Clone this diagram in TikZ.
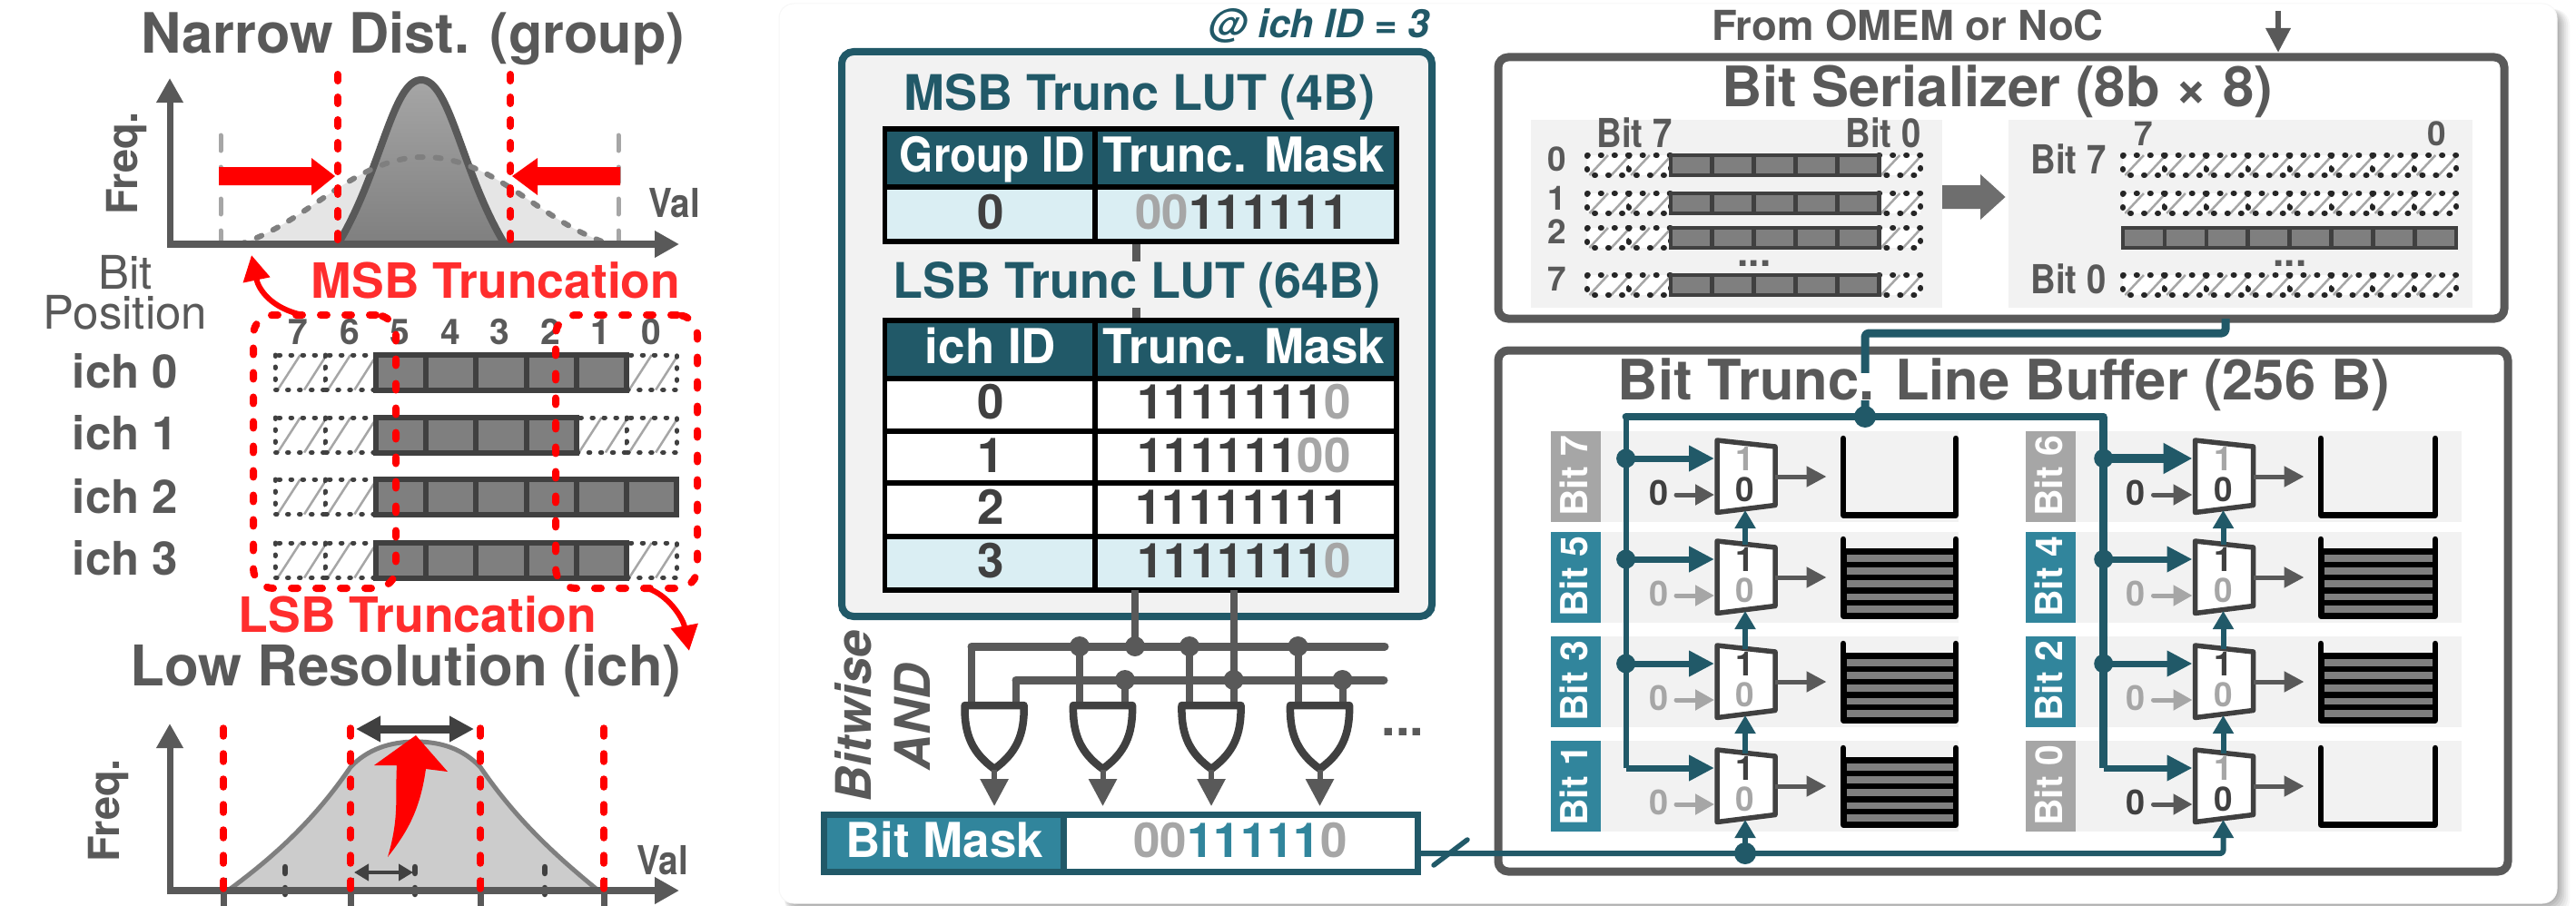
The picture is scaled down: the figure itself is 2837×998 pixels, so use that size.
\documentclass[tikz,border=0pt]{standalone}
\usepackage{fontspec}
\usepackage{graphicx}
\setmainfont{TeX Gyre Heros}
\usetikzlibrary{arrows.meta,calc}
\definecolor{teald}{HTML}{215968}
\definecolor{teall}{HTML}{31859C}
\definecolor{gd}{HTML}{595959}
\definecolor{gk}{HTML}{404040}
\definecolor{gm}{HTML}{7F7F7F}
\definecolor{gl}{HTML}{A6A6A6}
\definecolor{gb}{HTML}{F2F2F2}
\definecolor{tb}{HTML}{DAEEF3}
\definecolor{redt}{HTML}{FF2D2D}
\newcommand{\fs}[1]{\fontsize{#1}{#1}\selectfont}
\newcommand{\sq}[2]{\scalebox{#1}[1]{#2}}
\tikzset{
  bt/.style={inner sep=0pt,outer sep=0pt,anchor=base,font=\fs{#1}\bfseries},
  rt/.style={inner sep=0pt,outer sep=0pt,anchor=base,font=\fs{#1}},
  bi/.style={inner sep=0pt,outer sep=0pt,anchor=base,font=\fs{#1}\bfseries\itshape},
  boxn/.style={inner sep=0pt,outer sep=0pt,shape=rectangle},
  axisl/.style={draw=gd,line width=7pt,-{Triangle[length=27pt,width=28pt]}},
  axisx/.style={draw=gd,line width=8pt,-{Triangle[length=27pt,width=28pt]}},
  reddash/.style={draw=red,line width=8pt,line cap=round,dash pattern=on 7pt off 18pt},
  reddashb/.style={draw=red,line width=7.5pt,line cap=round,dash pattern=on 9pt off 19pt},
  redboxs/.style={boxn,draw=red,line width=8pt,line cap=round,dash pattern=on 7pt off 20pt,rounded corners=22pt},
  redcurve/.style={draw=red,line width=6pt,-{Triangle[length=28pt,width=29pt]}},
  hatchln/.style={draw=gl,line width=2.5pt},
  dashbig/.style={draw=gk,line width=5pt,line cap=round,dash pattern=on 1.5pt off 11.5pt},
  dashsm/.style={draw=black!85,line width=6pt,line cap=round,dash pattern=on 1pt off 14pt},
  solidc/.style={draw=gk,fill=gm,line width=#1},
  cellb/.style={boxn,draw=black,line width=5.5pt},
  stub/.style={draw=gd,line width=9pt},
  busd/.style={draw=gd,line width=9pt,line cap=round},
  busv/.style={draw=gd,line width=8pt},
  dotg/.style={boxn,shape=circle,fill=gd,minimum size=22pt},
  gatest/.style={draw=gk,fill=white,line width=8.5pt,line join=round},
  gateout/.style={draw=gd,line width=6pt,-{Triangle[length=30pt,width=30pt]}},
  tealw/.style={draw=teald,line width=#1,line join=round},
  dott/.style={boxn,shape=circle,fill=teald,minimum size=#1},
  tapa/.style={draw=teald,line width=7pt,-{Triangle[length=28pt,width=27pt]}},
  tapb/.style={draw=teald,line width=10pt,-{Triangle[length=32pt,width=32pt]}},
  sela/.style={draw=teald,line width=6pt,-{Triangle[length=20pt,width=22pt]}},
  zeroa/.style={draw=#1,line width=5pt,line cap=round,-{Triangle[length=21pt,width=22pt]}},
  outa/.style={draw=gd,line width=5pt,-{Triangle[length=22pt,width=22pt]}},
  muxs/.style={draw=gk,fill=white,line width=5.5pt,line join=round},
  bufs/.style={draw=black,line width=6.5pt,line cap=round,line join=round},
  bigbox/.style={boxn,draw=gd,fill=white,line width=9pt,rounded corners=11pt},
}
\newcommand{\HCell}[5]{%
  \fill[white] (#1,#2) rectangle ++(#3,#4);
  \draw[hatchln] (#1+.05*#3,#2+#4)--(#1+.5*#3,#2);
  \draw[hatchln] (#1+.58*#3,#2+#4)--(#1+.98*#3,#2+.1*#4);
  \draw[#5] (#1,#2) rectangle ++(#3,#4);
}
% x0 ytop w h first last dash solidlw
\newcommand{\BitRow}[8]{%
  \foreach \i in {0,...,7}{%
    \pgfmathsetmacro\xx{#1+\i*#3}%
    \ifnum\i<#5 \HCell{\xx}{#2}{#3}{#4}{#7}\else\ifnum\i>#6 \HCell{\xx}{#2}{#3}{#4}{#7}\fi\fi
  }
  \foreach \i in {0,...,7}{%
    \pgfmathsetmacro\xx{#1+\i*#3}%
    \ifnum\i<#5 \else\ifnum\i>#6 \else \draw[solidc=#8] (\xx,#2) rectangle ++(#3,#4);\fi\fi
  }
}
% name top label active(1/0)
\newcommand{\LBRow}[4]{%
  \fill[gb] (\cBlock,#2) rectangle (\cEnd,#2+99.5);
  \ifnum#4=1 \def\blk{teall}\def\zc{gl}\def\za{gl}\else \def\blk{gl}\def\zc{gk}\def\za{gd}\fi
  \fill[\blk] (\cBlock,#2) rectangle (\cBlock+54.5,#2+99.5);
  \node[bt=41,text=white,rotate=90] (#1lab) at (\cBlock+40,#2+49.5) {#3};
  \coordinate (#1tap) at (\cBus,#2+30);
  \coordinate (#1in) at (\cMux-3,#2+30);
  \coordinate (#1zs) at (\cZs,#2+70);
  \coordinate (#1ze) at (\cMux-3,#2+70);
  \coordinate (#1o) at (\cMux+64,#2+50);
  \coordinate (#1b) at (\cBufA-18.5,#2+50);
  \coordinate (#1top) at (\cMux+31,#2+13.5);
  \coordinate (#1bot) at (\cMux+31,#2+87);
  \draw[muxs] (\cMux,#2+10) -- (\cMux+64,#2+17) -- (\cMux+64,#2+81.5) -- (\cMux,#2+89.5) -- cycle;
  \draw[outa] (#1o) -- (#1b);
  \draw[zeroa=\za] (#1zs) -- (#1ze);
  \node[bt=38,text=\zc] (#1zl) at (\cZl,#2+81.5) {0};
  \ifnum#4=1
    \fill[black] (\cBufA,#2+18) rectangle (\cBufB,#2+92.5);
    \foreach \o in {29,43,57,71.5,85}{\fill[gm] (\cBufA+3.5,#2+\o-3.7) rectangle (\cBufB-3.5,#2+\o+3.7);}
  \fi
  \draw[bufs] (\cBufA,#2+8) -- (\cBufA,#2+92.5) -- (\cBufB,#2+92.5) -- (\cBufB,#2+8);
}
\newcommand{\LBDigits}[3]{%
  \ifnum#3=1 \def\cone{gk}\def\czero{gl}\else \def\cone{gl}\def\czero{gk}\fi
  \node[bt=37,text=\cone] (#1one) at (\cMux+31,#2+43) {1};
  \node[bt=37,text=\czero] (#1zero) at (\cMux+31,#2+77) {0};
}
\newcommand{\TCell}[6]{%
  \node[cellb,fill=#6,minimum width={(#4-#2)*1pt},minimum height={(#5-#3)*1pt}] (#1) at ({(#2+#4)/2},{(#3+#5)/2}) {};
}
\newcommand{\GateAt}[2]{%
  \draw[gatest] (#2+4,777) -- (#2+69,777) .. controls (#2+70,810) and (#2+60,830) .. (#2+36.5,847) .. controls (#2+13,830) and (#2+3,810) .. cycle;
  \coordinate (#1t) at (#2+36.5,848);
  \coordinate (#1a) at (#2+36.5,888);
  \draw[gateout] (#1t) -- (#1a);
}
\begin{document}
\begin{tikzpicture}[x=1pt,y=-1pt]
\useasboundingbox (0,0) rectangle (2837,998);
\fill[white] (0,0) rectangle (2837,998);
% back panel with soft shadow
\foreach \k/\c in {14/3,12/7,10/11,8/16,6/21,4/26,2/31}{
  \fill[black!\c,rounded corners=18pt] (864,10) rectangle (2816+\k,995+\k);
}
\node[boxn,fill=white,draw=black!3,line width=1pt,rounded corners=16pt,minimum width=1958pt,minimum height=991pt] (panel) at (1837,499.5) {};

% ===== top chart =====
\node[bt=61.3,text=gd] (t1) at (455,59) {Narrow Dist. (group)};
\draw[draw=gl,line width=5pt,line cap=round,dash pattern=on 17pt off 18pt] (243,149) -- (243,269);
\draw[draw=gl,line width=5pt,line cap=round,dash pattern=on 17pt off 18pt] (681,149) -- (681,269);
\draw[fill=black!10,draw=none] (264,269) .. controls (340,245) and (390,173) .. (467,173) .. controls (545,173) and (595,245) .. (672,269) -- cycle;
\shade[top color=gl,bottom color=gm] (372,269) .. controls (420,190) and (432,88) .. (464,88) .. controls (496,88) and (508,190) .. (556,269) -- cycle;
\draw[draw=gd,line width=8pt] (372,269) .. controls (420,190) and (432,88) .. (464,88) .. controls (496,88) and (508,190) .. (556,269);
\draw[draw=gm,line width=6pt,line cap=round,dash pattern=on 6pt off 14pt] (264,269) .. controls (340,245) and (390,173) .. (467,173) .. controls (545,173) and (595,245) .. (672,269);
\coordinate (o1) at (187,269);
\coordinate (y1) at (187,86);
\coordinate (x1) at (748,269);
\draw[axisl] (o1) -- (y1);
\draw[axisx] ($(o1)+(-3,0)$) -- (x1);
\node[bt=47,text=gd,rotate=90] (f1) at (151,180) {Freq.};
\node[bt=44,text=gd] (v1) at (743,239) {\sq{.88}{Val}};
\draw[reddash] (372,82) -- (372,274);
\draw[reddash] (562,82) -- (562,274);
\fill[red] (241,184) -- (343,184) -- (343,174) -- (369,194) -- (343,215) -- (343,204) -- (241,204) -- cycle;
\fill[red] (683,184) -- (592,184) -- (592,174) -- (564,194) -- (592,215) -- (592,204) -- (683,204) -- cycle;
\node[bt=53.5,text=redt] (msbt) at (546,328) {MSB Truncation};

% ===== bit grid =====
\node[inner sep=0pt,outer sep=0pt,anchor=south,align=center,font=\fontsize{51}{44}\selectfont,text=gd] (bp) at (138,363) {Bit\\Position};
\foreach \x/\t in {328/7,385/6,440/5,496/4,550/3,606/2,661/1,717/0}{
  \node[bt=39,text=gd] (col\t) at (\x,379) {\t};
}
\foreach \y/\t in {427/0,495/1,565/2,633/3}{
  \node[bt=51,text=gd] (ich\t) at (138,\y) {ich \t};
}
\BitRow{303}{391}{55.3}{38.5}{2}{6}{dashbig}{6pt}
\BitRow{303}{460}{55.3}{38.5}{2}{5}{dashbig}{6pt}
\BitRow{303}{528}{55.3}{38.5}{2}{7}{dashbig}{6pt}
\BitRow{303}{598}{55.3}{38.5}{2}{6}{dashbig}{6pt}
\node[redboxs,minimum width=157pt,minimum height=301pt] (msbBox) at (357.5,497.5) {};
\node[redboxs,minimum width=156pt,minimum height=301pt] (lsbBox) at (690,497.5) {};
\coordinate (msbTip) at (277,281);
\coordinate (lsbTip) at (759,717);
\draw[redcurve] ([xshift=-24pt]msbBox.north) .. controls (300,340) and (285,320) .. (msbTip);
\draw[redcurve] ([xshift=23pt]lsbBox.south) .. controls (735,655) and (752,680) .. (lsbTip);
\node[bt=53.5,text=redt] (lsbt) at (460,696) {LSB Truncation};
\node[bt=61.8,text=gd] (t2) at (447,755) {Low Resolution (ich)};

% ===== bottom chart =====
\draw[fill=black!20,draw=gm,line width=5pt] (251,981) .. controls (300,945) and (345,905) .. (386,845) .. controls (405,825) and (430,817) .. (458,817) .. controls (486,817) and (510,825) .. (529,845) .. controls (570,905) and (615,945) .. (659,981) -- cycle;
\foreach \x in {314,457,600}{
  \draw[draw=gk,line width=6.5pt,line cap=round,dash pattern=on 7pt off 16pt] (\x,955) -- (\x,998);
}
\foreach \x in {246,386,529,665}{
  \draw[draw=gd,line width=7pt] (\x,967) -- (\x,998);
}
\coordinate (o2) at (187,981);
\coordinate (y2) at (187,797);
\coordinate (x2) at (748,981);
\draw[axisl] (o2) -- (y2);
\draw[axisx] ($(o2)+(-3,0)$) -- (x2);
\foreach \x in {246,386,529,665}{
  \draw[reddashb] (\x,802) -- (\x,992);
}
\node[bt=47,text=gd,rotate=90] (f2) at (131,893) {Freq.};
\node[bt=44,text=gd] (v2) at (730,963) {\sq{.88}{Val}};
\coordinate (w1) at (392,803);
\coordinate (w2) at (522,803);
\draw[draw=gk,line width=9pt,{Triangle[length=27pt,width=27pt]}-{Triangle[length=27pt,width=27pt]}] (w1) -- (w2);
\coordinate (w3) at (390,961);
\coordinate (w4) at (455,961);
\draw[draw=gk,line width=4.5pt,{Triangle[length=16pt,width=18pt]}-{Triangle[length=16pt,width=18pt]}] (w3) -- (w4);
\fill[red] (427,944) .. controls (440,900) and (435,880) .. (437,843) -- (412,843) -- (458,810) -- (493,850) -- (469,847) .. controls (463,890) and (450,915) .. (427,944) -- cycle;

% ===== LUT panel =====
\node[bi=43,text=teald] (ichid) at (1453,42) {@ ich ID = 3};
\node[boxn,draw=teald,fill=gb,line width=8pt,rounded corners=13pt,minimum width=650pt,minimum height=622pt] (lutBox) at (1252,368) {};
\node[bt=54,text=teald] (msbLut) at (1255,121) {MSB Trunc LUT (4B)};
\coordinate (stubA) at (1251,266);
\coordinate (stubB) at (1251,353);
\draw[stub] (stubA) -- (stubB);
\node[bt=54,text=teald,fill=gb] (lsbLut) at (1252,328) {LSB Trunc LUT (64B)};
\TCell{a00}{974.5}{142}{1206}{206}{teald}
\TCell{a01}{1206}{142}{1538}{206}{teald}
\TCell{a10}{974.5}{206}{1206}{266}{tb}
\TCell{a11}{1206}{206}{1538}{266}{tb}
\TCell{b00}{974.5}{353}{1206}{417}{teald}
\TCell{b01}{1206}{353}{1538}{417}{teald}
\TCell{b10}{974.5}{417}{1206}{475}{white}
\TCell{b11}{1206}{417}{1538}{475}{white}
\TCell{b20}{974.5}{475}{1206}{532}{white}
\TCell{b21}{1206}{475}{1538}{532}{white}
\TCell{b30}{974.5}{532}{1206}{591}{white}
\TCell{b31}{1206}{532}{1538}{591}{white}
\TCell{b40}{974.5}{591}{1206}{650}{tb}
\TCell{b41}{1206}{591}{1538}{650}{tb}
\node[bt=53,text=white] (ga) at (1093,189) {\sq{.9}{Group ID}};
\node[bt=53,text=white] (gb1) at (1370,189) {Trunc. Mask};
\node[bt=53,text=white] (ia) at (1091,400) {ich ID};
\node[bt=53,text=white] (ib) at (1370,400) {Trunc. Mask};
\node[bt=53,text=gk] (v00) at (1091,252) {0};
\node[bt=53,text=gk] (v01) at (1368,252) {\textcolor{gl}{00}111111};
\node[bt=53,text=gk] (v10) at (1091,461) {0};
\node[bt=53,text=gk] (v11) at (1370,461) {1111111\textcolor{gl}{0}};
\node[bt=53,text=gk] (v20) at (1091,520) {1};
\node[bt=53,text=gk] (v21) at (1370,520) {111111\textcolor{gl}{00}};
\node[bt=53,text=gk] (v30) at (1091,577.5) {2};
\node[bt=53,text=gk] (v31) at (1368,577.5) {11111111};
\node[bt=53,text=gk] (v40) at (1091,636) {3};
\node[bt=53,text=gk] (v41) at (1370,636) {1111111\textcolor{gl}{0}};

% ===== gates =====
\coordinate (busA) at (1070,712);
\coordinate (busB) at (1525,712);
\coordinate (busC) at (1119,749);
\coordinate (busD) at (1524,749);
\foreach \n/\x in {g1/1189,g2/1310,g3/1429.5}{
  \coordinate (\n u) at (\x,712);
  \coordinate (\n v) at (\x,775);
  \draw[busv] (\n u) -- (\n v);
}
\foreach \n/\x in {g1/1239,g2/1358.6,g3/1478.5}{
  \coordinate (\n p) at (\x,749);
  \coordinate (\n q) at (\x,775);
  \draw[busv] (\n p) -- (\n q);
}
\coordinate (in1) at (1250,650);
\coordinate (in1b) at (1250,712);
\coordinate (in2) at (1358.6,650);
\coordinate (in2b) at (1358.6,749);
\draw[busv] (in1) -- (in1b);
\draw[busv] (in2) -- (in2b);
\draw[busd] (busB) -- (busA);
\draw[busv] (busA) -- (1070,775);
\draw[busd] (busD) -- (busC);
\draw[busv] (busC) -- (1119,775);
\foreach \n/\x/\y in {d1/1189/712,d2/1250/712,d3/1310/712,d4/1429.5/712,d5/1239/749,d6/1358.6/749,d7/1478.5/749}{
  \node[dotg] (\n) at (\x,\y) {};
}
\GateAt{ga1}{1058.6}
\GateAt{ga2}{1178}
\GateAt{ga3}{1297.5}
\GateAt{ga4}{1417}
\node[bt=56,text=gd] (dots) at (1545,810) {...};
\node[bi=54,text=gd,rotate=90] (bwa) at (959,788.5) {Bitwise};
\node[bi=54,text=gd,rotate=90] (bwb) at (1024,790) {AND};

% ===== bit mask =====
\node[boxn,draw=teald,fill=teall,line width=7pt,minimum width=263.5pt,minimum height=63pt] (maskL) at (1039.25,928.5) {};
\node[boxn,draw=teald,fill=white,line width=7pt,minimum width=390pt,minimum height=63pt] (maskR) at (1366,928.5) {};
\node[bt=53,text=white] (mk1) at (1040,944) {Bit Mask};
\node[bt=53,text=teall] (mk2) at (1366,944) {\textcolor{gl}{00}11111\textcolor{gl}{0}};

% ===== serializer =====
\node[bt=45.5,text=gd] (from) at (2101,45) {From OMEM or NoC};
\coordinate (fromS) at (2509,12);
\coordinate (fromE) at (2509,58);
\draw[draw=gd,line width=6.5pt,-{Triangle[length=27pt,width=26pt]}] (fromS) -- (fromE);
\node[bigbox,minimum width=1108pt,minimum height=288pt] (serBox) at (2204,207) {};
\node[bt=61.5,text=gd] (serT) at (2200,117) {Bit Serializer (8b × 8)};
\node[boxn,fill=gb,minimum width=453pt,minimum height=207pt] (serL) at (1912.5,235.5) {};
\node[boxn,fill=gb,minimum width=510.5pt,minimum height=207pt] (serR) at (2467.25,235.5) {};
\node[bt=44,text=gd] (s7) at (1800,162) {\sq{.87}{Bit 7}};
\node[bt=44,text=gd] (s0) at (2074,162) {\sq{.87}{Bit 0}};
\foreach \y/\t in {188/0,231/1,268/2,320/7}{
  \node[bt=37,text=gd] (sr\t) at (1715,\y) {\t};
}
\foreach \y in {171,213,251,303}{
  \BitRow{1748}{\y}{45.9}{22}{2}{6}{dashsm}{4.5pt}
}
\foreach \y in {171,213,303}{
  \BitRow{2338}{\y}{45.9}{22}{8}{8}{dashsm}{4.5pt}
}
\BitRow{2338}{251}{45.9}{22}{0}{7}{dashsm}{4.5pt}
\node[bt=44,text=gd] (rr7) at (2278,191) {\sq{.87}{Bit 7}};
\node[bt=44,text=gd] (rr0) at (2278,323) {\sq{.87}{Bit 0}};
\node[bt=37,text=gd] (rt7) at (2361,160) {7};
\node[bt=37,text=gd] (rt0) at (2684,160) {0};
\node[bt=44,text=gd] (sd1) at (1932,293) {...};
\node[bt=44,text=gd] (sd2) at (2522,293) {...};
\fill[black!57] (2139,204) -- (2181,204) -- (2181,192) -- (2208.5,217) -- (2181,242) -- (2181,230) -- (2139,230) -- cycle;

% ===== line buffer =====
\node[bigbox,minimum width=1112pt,minimum height=574pt] (lbBox) at (2206,673) {};
\coordinate (feedA) at (2451,351);
\coordinate (feedB) at (2451,367);
\coordinate (feedC) at (2054,367);
\coordinate (feedD) at (2054,459);
\draw[tealw=9pt,rounded corners=4pt] (feedA) -- (feedB) -- (feedC) -- (feedD);
\fill[white] (2043,411) rectangle (2066,441);
\node[bt=61.5,text=gd] (lbT) at (2207,440) {Bit Trunc. Line Buffer (256 B)};

\def\cBlock{1708}\def\cEnd{2157}\def\cMux{1891}\def\cBus{1790.6}\def\cZs{1846}\def\cZl{1826.6}\def\cBufA{2030}\def\cBufB{2154}
\LBRow{L1}{475}{Bit 7}{0}
\LBRow{L2}{586}{Bit 5}{1}
\LBRow{L3}{701}{Bit 3}{1}
\LBRow{L4}{816}{Bit 1}{1}
\def\cBlock{2231}\def\cEnd{2711}\def\cMux{2417.5}\def\cBus{2316.7}\def\cZs{2371.5}\def\cZl{2352.4}\def\cBufA{2556}\def\cBufB{2682}
\LBRow{R1}{475}{Bit 6}{0}
\LBRow{R2}{586}{Bit 4}{1}
\LBRow{R3}{701}{Bit 2}{1}
\LBRow{R4}{816}{Bit 0}{0}

% teal wiring
\coordinate (topL) at (1790.6,459);
\coordinate (topR) at (2316.7,459);
\draw[tealw=6pt] (L4tap) -- (topL);
\draw[tealw=8pt,line cap=round] (topL) -- (topR);
\draw[tealw=9pt] (topR) -- (R4tap);
\foreach \p in {L1,L2,L3,L4,R2,R3,R4}{
  \draw[tapa] (\p tap) -- (\p in);
}
\draw[tapb] (R1tap) -- (R1in);
\foreach \p in {L1,L2,L3,R1,R2,R3}{
  \node[dott=21pt] at (\p tap) {};
}
\node[dott=24pt] (jn) at (feedD) {};
\foreach \u/\v in {L2/L1,L3/L2,L4/L3,R2/R1,R3/R2,R4/R3}{
  \draw[sela] (\u top) -- (\v bot);
}
% digits on top of select lines
\def\cMux{1891}
\LBDigits{L1}{475}{0}
\LBDigits{L2}{586}{1}
\LBDigits{L3}{701}{1}
\LBDigits{L4}{816}{1}
\def\cMux{2417.5}
\LBDigits{R1}{475}{0}
\LBDigits{R2}{586}{1}
\LBDigits{R3}{701}{1}
\LBDigits{R4}{816}{0}
% mask line
\coordinate (mo) at (1564,940);
\coordinate (slA) at (1579,953);
\coordinate (slB) at (1616,925);
\coordinate (ldot) at (L4bot |- mo);
\draw[tealw=6pt,rounded corners=3pt,-{Triangle[length=20pt,width=22pt]}] (mo) -| (R4bot);
\draw[sela] (ldot) -- (L4bot);
\node[dott=24pt] (ld) at (ldot) {};
\draw[tealw=5.5pt,line cap=round] (slA) -- (slB);
\end{tikzpicture}
\end{document}
